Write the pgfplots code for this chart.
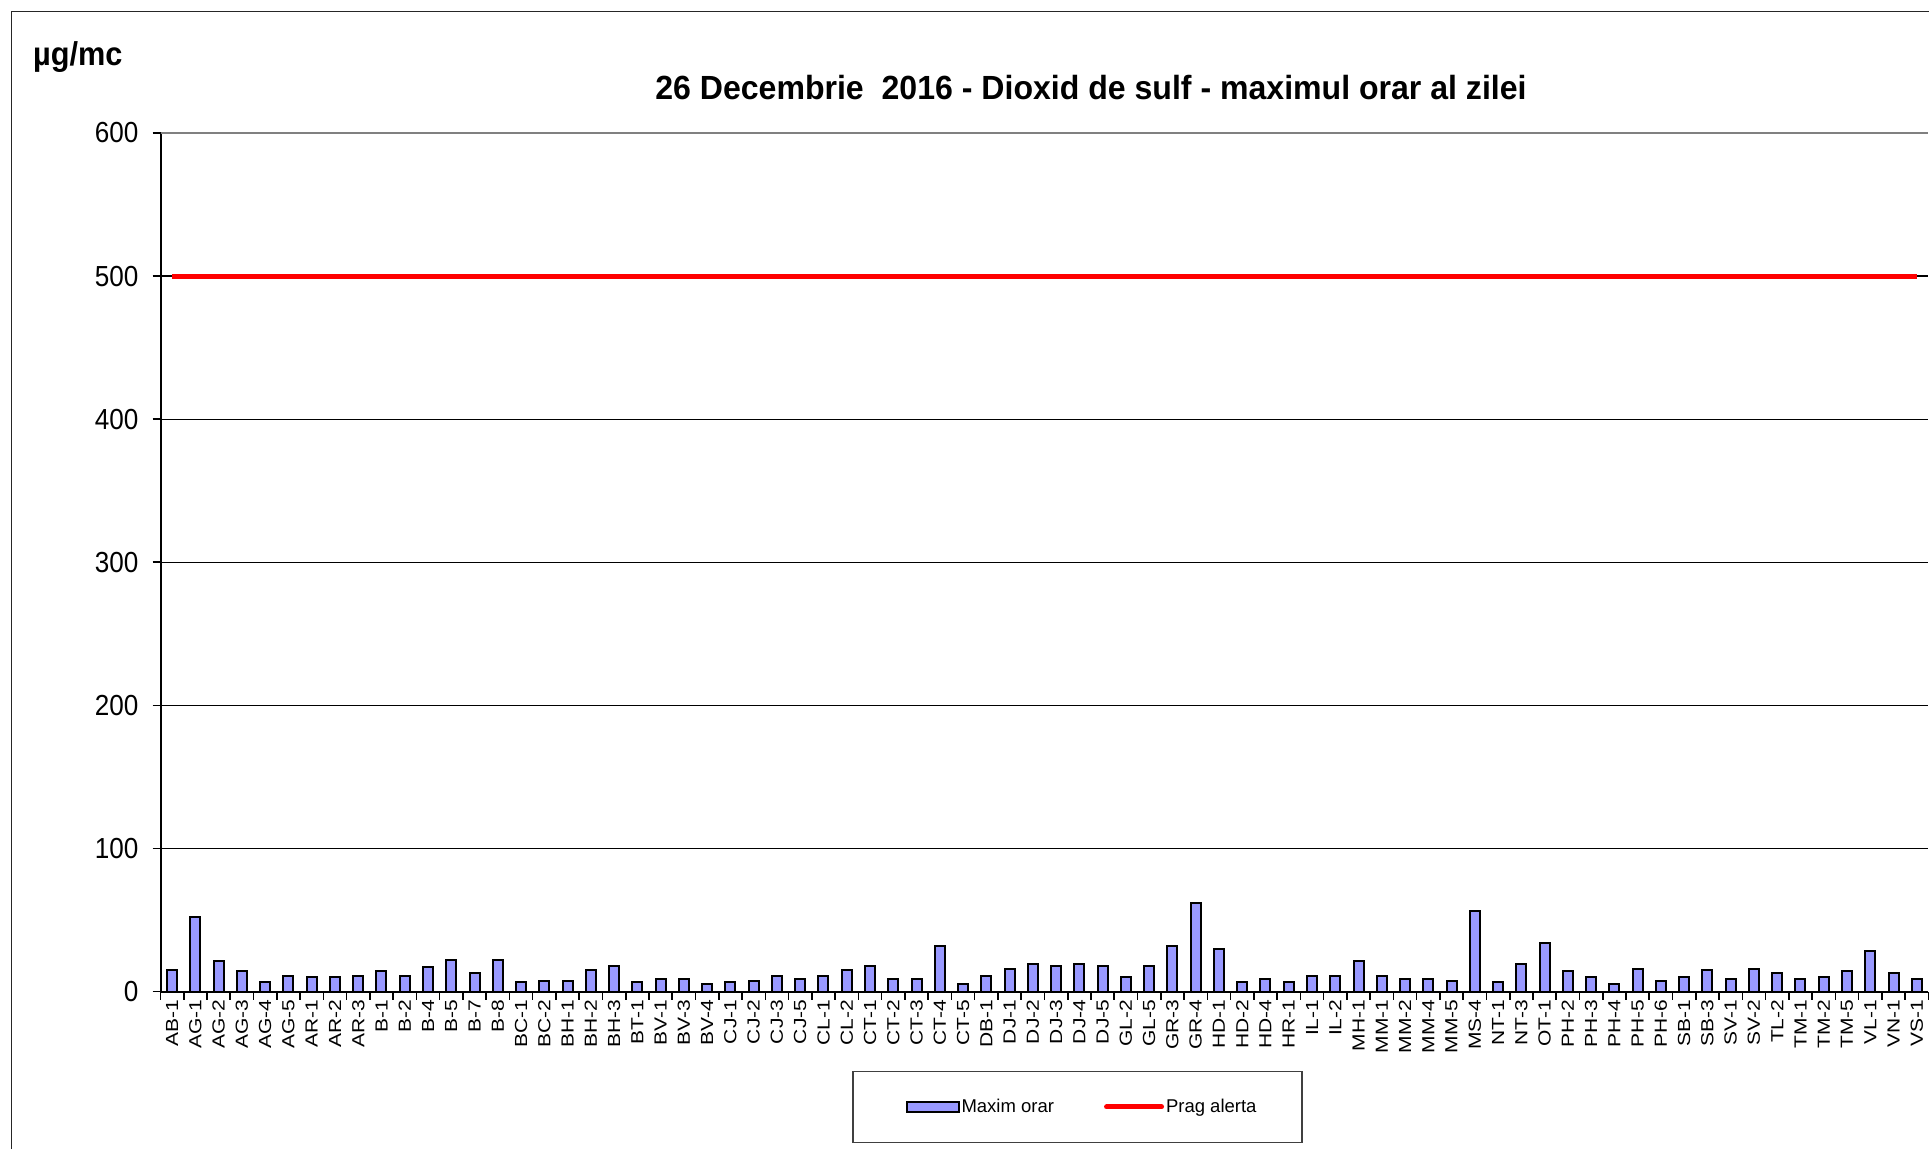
\documentclass[border=0pt]{standalone}
\usepackage{pgfplots}
\usepackage{pgfplotstable}
\pgfplotsset{compat=1.18}
\usepackage{fontspec}
\setmainfont{Liberation Sans}
\newfontfamily\titlefont[FakeStretch=0.957]{Liberation Sans}
\newfontfamily\unitfont[FakeStretch=0.93]{Liberation Sans}
\newfontfamily\yticfont[FakeStretch=0.9]{Liberation Sans}
\newfontfamily\xlabfont[FakeStretch=1.2]{Liberation Sans}
\definecolor{barblue}{HTML}{9999FF}

\pgfplotstableread{
idx val
0 15.2
1 52.4
2 21.4
3 14
4 6.5
5 10.7
6 9.8
7 9.8
8 10.7
9 14
10 10.7
11 17
12 22.1
13 12.8
14 22.1
15 6.5
16 7.7
17 7.7
18 15.2
19 18
20 6.5
21 8.6
22 8.6
23 5.4
24 6.5
25 7.7
26 10.7
27 8.6
28 10.7
29 14.9
30 18
31 8.6
32 8.6
33 31.5
34 5.4
35 10.7
36 15.9
37 19.1
38 18
39 19.1
40 18
41 9.8
42 18
43 31.5
44 61.8
45 29.6
46 6.5
47 8.6
48 6.5
49 10.7
50 10.7
51 21.4
52 10.7
53 8.6
54 8.6
55 7.7
56 56.4
57 6.5
58 19.1
59 33.8
60 14
61 9.8
62 5.4
63 15.9
64 7.7
65 9.8
66 14.9
67 8.6
68 15.9
69 12.8
70 8.6
71 9.8
72 14
73 28.4
74 12.8
75 8.6
}\maxdata

\pgfplotstableread{
idx val
0 500
75 500
}\pragdata

\begin{document}
\begin{tikzpicture}[x=1pt,y=1pt]
\begin{axis}[
  at={(160.5pt,-991.5pt)}, anchor=south west,
  scale only axis,
  width=1768pt, height=858.5pt,
  xmin=-0.5, xmax=75.5,
  ymin=0, ymax=600,
  axis lines*=left,
  axis line style={line width=2pt, black},
  xtick={-0.5,0.5,...,75.5},
  x tick label as interval,
  xticklabels={AB-1,AG-1,AG-2,AG-3,AG-4,AG-5,AR-1,AR-2,AR-3,B-1,B-2,B-4,B-5,B-7,B-8,BC-1,BC-2,BH-1,BH-2,BH-3,BT-1,BV-1,BV-3,BV-4,CJ-1,CJ-2,CJ-3,CJ-5,CL-1,CL-2,CT-1,CT-2,CT-3,CT-4,CT-5,DB-1,DJ-1,DJ-2,DJ-3,DJ-4,DJ-5,GL-2,GL-5,GR-3,GR-4,HD-1,HD-2,HD-4,HR-1,IL-1,IL-2,MH-1,MM-1,MM-2,MM-4,MM-5,MS-4,NT-1,NT-3,OT-1,PH-2,PH-3,PH-4,PH-5,PH-6,SB-1,SB-3,SV-1,SV-2,TL-2,TM-1,TM-2,TM-5,VL-1,VN-1,VS-1},
  xticklabel style={font=\xlabfont\fontsize{17.5pt}{17.5pt}\selectfont, rotate=90, anchor=east, inner sep=0pt},
  ytick={0,100,...,500},
  extra y ticks={600},
  extra y tick style={grid style={draw=black!50, line width=1.8pt}},
  yticklabel style={font=\yticfont\fontsize{29pt}{29pt}\selectfont, anchor=east, inner sep=0pt, xshift=-14pt},
  /pgf/number format/assume math mode=true,
  tick align=outside,
  major tick length=8pt,
  tick style={line width=1.6pt, black},
  ymajorgrids,
  grid style={line width=1.3pt, black},
  legend columns=2,
  legend style={at={(0.5187,-0.0926)}, anchor=north, draw=black!75, line width=1.4pt,
    font=\fontsize{18.5pt}{18.5pt}\selectfont, inner xsep=43.5pt, inner ysep=25.8pt,
    nodes={inner sep=2pt}},
  legend cell align=left,
  /tikz/every even column/.append style={column sep=48pt},
]
\addplot[ybar, bar width=10pt, fill=barblue, draw=black, line width=2pt,
  legend image code/.code={\path (0pt,0pt); \draw[fill=barblue, draw=black, line width=2pt] (9pt,-5pt) rectangle (61pt,5pt);}]
  table[x=idx, y=val]{\maxdata};
\addlegendentry{Maxim orar}
\addplot[red, line width=5pt,
  legend image code/.code={\draw[red, line width=5pt, line cap=round] (0pt,0pt) -- (55pt,0pt);}]
  table[x=idx, y=val]{\pragdata};
\addlegendentry{Prag alerta}
\end{axis}
\node[anchor=base, font=\titlefont\bfseries\fontsize{33.5pt}{33.5pt}\selectfont] at (1091,-99) {26 Decembrie\ \ 2016 - Dioxid de sulf - maximul orar al zilei};
\node[anchor=base west, inner sep=0pt, font=\unitfont\bfseries\fontsize{33pt}{33pt}\selectfont] at (33,-65) {µg/mc};
\draw[line width=1.5pt, black!85] (11.5,-1149) -- (11.5,-11.5) -- (1929,-11.5);
\pgfresetboundingbox
\path[use as bounding box] (0,0) rectangle (1929,-1149);
\end{tikzpicture}
\end{document}
